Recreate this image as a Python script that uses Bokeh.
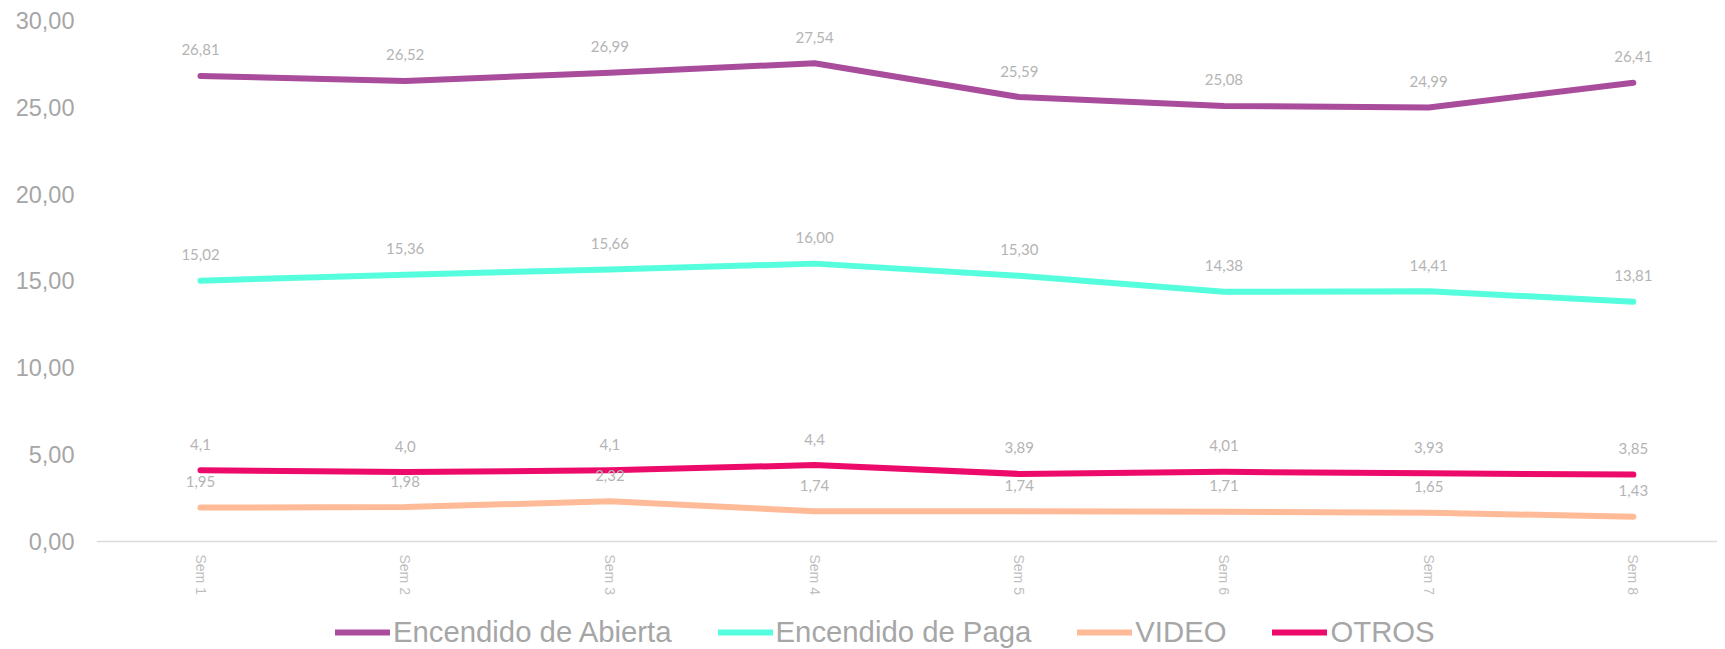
from bokeh.plotting import figure
from bokeh.models import (ColumnDataSource, Range1d, FixedTicker, LabelSet,
                          Legend, LegendItem)
from bokeh.core.properties import value
from bokeh.embed import file_html
from bokeh.resources import INLINE

weeks = ["Sem 1", "Sem 2", "Sem 3", "Sem 4", "Sem 5", "Sem 6", "Sem 7", "Sem 8"]
abierta = [26.81, 26.52, 26.99, 27.54, 25.59, 25.08, 24.99, 26.41]
paga = [15.02, 15.36, 15.66, 16.00, 15.30, 14.38, 14.41, 13.81]
video = [1.95, 1.98, 2.32, 1.74, 1.74, 1.71, 1.65, 1.43]
otros = [4.1, 4.0, 4.1, 4.4, 3.89, 4.01, 3.93, 3.85]
otros_decimals = [1, 1, 1, 1, 2, 2, 2, 2]
y_ticks = [0, 5, 10, 15, 20, 25, 30]
y_tick_labels = ["0,00", "5,00", "10,00", "15,00", "20,00", "25,00", "30,00"]

series = [
    ("Encendido de Abierta", abierta, [2] * 8, "#A94C9C"),
    ("Encendido de Paga", paga, [2] * 8, "#55FFDD"),
    ("VIDEO", video, [2] * 8, "#FFBA98"),
    ("OTROS", otros, otros_decimals, "#EC0A6A"),
]

x = list(range(1, len(weeks) + 1))

# frame spans from the top value (30) down to the bottom of the picture,
# so the legend can sit inside it below the x axis (drawn at y = 0)
p = figure(width=1717, height=649, output_backend="svg", toolbar_location=None,
           x_range=Range1d(0.492, 8.411), y_range=Range1d(-6.22, 30),
           min_border_left=96, min_border_right=0, min_border_top=20,
           min_border_bottom=0)
p.outline_line_color = None
p.xgrid.visible = False
p.ygrid.visible = False

# y axis
p.yaxis.ticker = FixedTicker(ticks=y_ticks)
p.yaxis.major_label_overrides = {t: l for t, l in zip(y_ticks, y_tick_labels)}
p.yaxis.axis_line_color = None
p.yaxis.major_tick_line_color = None
p.yaxis.minor_tick_line_color = None
p.yaxis.major_tick_out = 0
p.yaxis.major_label_standoff = 22
p.yaxis.major_label_text_font = "Liberation Sans"
p.yaxis.major_label_text_font_size = "23.5px"
p.yaxis.major_label_text_color = "#a6a6a6"

# x axis, drawn at y = 0
p.xaxis.fixed_location = 0
p.xaxis.ticker = FixedTicker(ticks=x)
p.xaxis.major_label_overrides = {i: w for i, w in zip(x, weeks)}
p.xaxis.axis_line_color = "#dcdcdc"
p.xaxis.axis_line_width = 1.5
p.xaxis.major_tick_line_color = None
p.xaxis.minor_tick_line_color = None
p.xaxis.major_tick_out = 0
p.xaxis.major_tick_in = 0
p.xaxis.major_label_standoff = 13
p.xaxis.major_label_orientation = "vertical"
p.xaxis.major_label_text_font = "Liberation Sans"
p.xaxis.major_label_text_font_size = "14px"
p.xaxis.major_label_text_color = "#bfbfbf"

items = []
for name, vals, decs, color in series:
    labels = [("{:.%df}" % d).format(v).replace(".", ",") for v, d in zip(vals, decs)]
    src = ColumnDataSource(dict(x=x, y=vals, lab=labels))
    r = p.line("x", "y", source=src, line_color=color, line_width=6,
               line_cap="round", line_join="round")
    items.append(LegendItem(label=name, renderers=[r]))
    ls = LabelSet(x="x", y="y", text="lab", source=src, y_offset=26,
                  text_align="center", text_baseline="middle",
                  text_font=value("Lato"), text_font_size=value("15px"),
                  text_color=value("#b4b4b4"))
    p.add_layout(ls)

legend = Legend(items=items, orientation="horizontal", location=(239, 0),
                padding=0, margin=0, spacing=46, label_standoff=3,
                glyph_width=55, glyph_height=20,
                label_text_font="Liberation Sans", label_text_font_size="29.3px",
                label_text_color="#a6a6a6", border_line_color=None,
                background_fill_alpha=0)
p.add_layout(legend, "center")

open("out.html", "w").write(file_html(p, INLINE))
